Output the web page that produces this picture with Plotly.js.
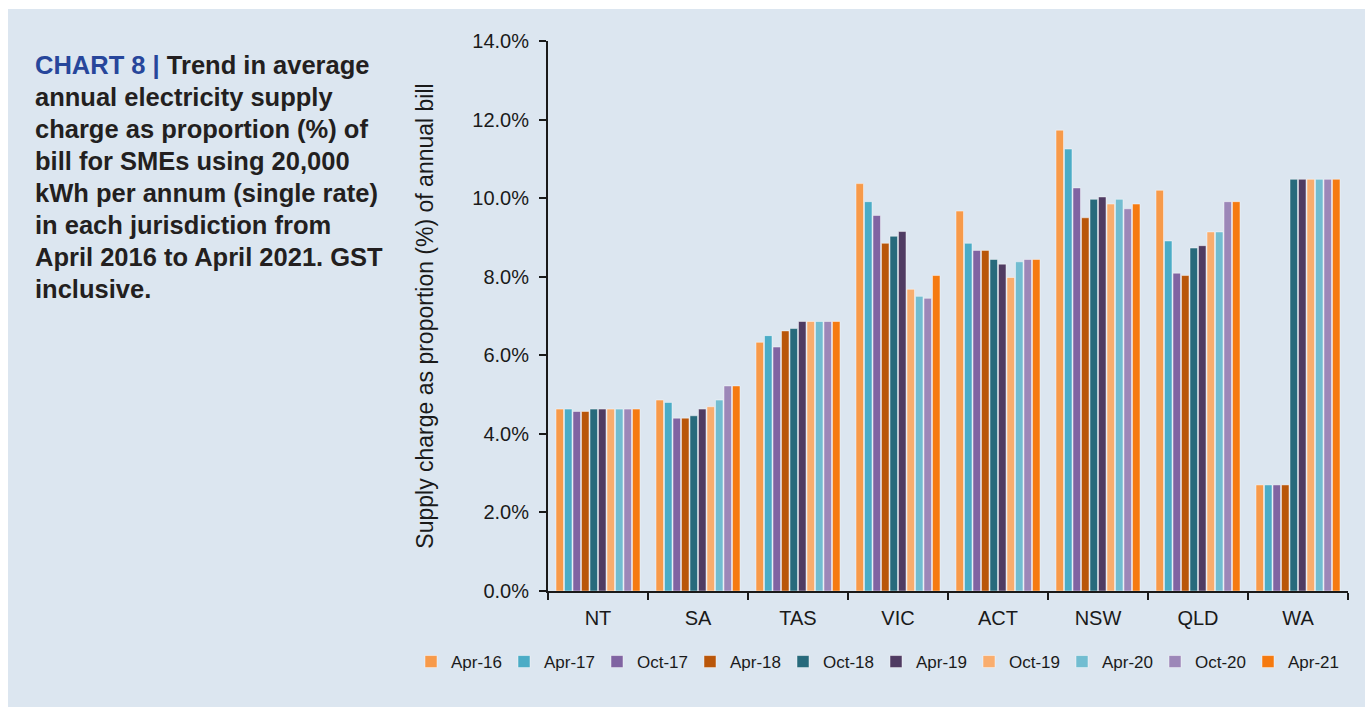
<!DOCTYPE html>
<html>
<head>
<meta charset="utf-8">
<script src="https://cdn.plot.ly/plotly-3.0.1.min.js"></script>
<style>
  html, body { margin: 0; padding: 0; background: #ffffff; }
  #chart { position: absolute; left: 8px; top: 9px; width: 1357px; height: 698px; }
</style>
</head>
<body>
<div id="chart"></div>
<script>
// jurisdictions along the x axis
const states = ['NT', 'SA', 'TAS', 'VIC', 'ACT', 'NSW', 'QLD', 'WA'];

// one series per survey period, values are % of annual bill
const periods = ['Apr-16', 'Apr-17', 'Oct-17', 'Apr-18', 'Oct-18', 'Apr-19', 'Oct-19', 'Apr-20', 'Oct-20', 'Apr-21'];
const apr16 = [4.63, 4.86, 6.33, 10.37, 9.67, 11.73, 10.20, 2.70];
const apr17 = [4.63, 4.80, 6.50, 9.91, 8.85, 11.25, 8.91, 2.70];
const oct17 = [4.57, 4.40, 6.21, 9.56, 8.67, 10.26, 8.09, 2.70];
const apr18 = [4.57, 4.40, 6.62, 8.85, 8.67, 9.50, 8.03, 2.70];
const oct18 = [4.63, 4.46, 6.68, 9.03, 8.44, 9.97, 8.73, 10.48];
const apr19 = [4.63, 4.63, 6.86, 9.15, 8.32, 10.03, 8.79, 10.48];
const oct19 = [4.63, 4.69, 6.86, 7.68, 7.98, 9.85, 9.14, 10.48];
const apr20 = [4.63, 4.86, 6.86, 7.50, 8.38, 9.97, 9.14, 10.48];
const oct20 = [4.63, 5.22, 6.86, 7.45, 8.44, 9.73, 9.91, 10.48];
const apr21 = [4.63, 5.22, 6.86, 8.03, 8.44, 9.85, 9.91, 10.48];
const seriesValues = [apr16, apr17, oct17, apr18, oct18, apr19, oct19, apr20, oct20, apr21];

const colors = ['#f79a4a', '#4bacc6', '#8064a2', '#b9560a', '#276a7c',
                '#4f3b62', '#f9ad6e', '#72bdd1', '#9c87b8', '#f57a10'];

const titleLines = [
  '<span style="color:#27469b">CHART 8 | </span>Trend in average',
  'annual electricity supply',
  'charge as proportion (%) of',
  'bill for SMEs using 20,000',
  'kWh per annum (single rate)',
  'in each jurisdiction from',
  'April 2016 to April 2021. GST',
  'inclusive.'
];

const FONT = '"Liberation Sans", Arial, Helvetica, sans-serif';
const PANEL = '#dce6f0';

// the div sits at page (8, 9); the x axis runs from page x 548 to 1348,
// y axis from page y 41 to 591. The margin box is wider than the x axis so
// the one-row legend has room.
const W = 1357, H = 698;
const marginL = 380, marginR = 17, marginT = 32, marginB = 116;
const boxW = W - marginL - marginR;
const axisStart = (548 - 8 - marginL) / boxW;
const plotTop = marginT, plotBottom = H - marginB;
const toPaperY = (pageY) => (plotBottom - (pageY - 9)) / (plotBottom - plotTop);
const toPaperX = (pageX) => (pageX - 8 - marginL) / boxW;

const traces = periods.map((name, i) => ({
  type: 'bar',
  name: name,
  x: states,
  y: seriesValues[i],
  marker: {
    color: colors[i],
    line: { color: 'rgba(255,255,255,0.45)', width: 1 }
  },
  hoverinfo: 'x+y+name'
}));

const annotations = titleLines.map((line, i) => ({
  xref: 'paper',
  yref: 'paper',
  x: toPaperX(33),
  y: toPaperY(64.5 + i * 32.1),
  xanchor: 'left',
  yanchor: 'middle',
  align: 'left',
  showarrow: false,
  text: '<b>' + line + '</b>',
  font: { family: FONT, size: 25.5, color: '#231f20' }
}));

const layout = {
  width: W,
  height: H,
  margin: { l: marginL, r: marginR, t: marginT, b: marginB },
  paper_bgcolor: PANEL,
  plot_bgcolor: PANEL,
  barmode: 'group',
  bargap: 0.15,
  bargroupgap: 0.12,
  font: { family: FONT, size: 20, color: '#1a1a1a' },
  showlegend: true,
  legend: {
    orientation: 'h',
    x: toPaperX(876),
    xanchor: 'center',
    y: toPaperY(662),
    yanchor: 'middle',
    bgcolor: 'rgba(0,0,0,0)',
    font: { family: FONT, size: 17, color: '#1a1a1a' },
    itemwidth: 30,
    entrywidth: 48,
    entrywidthmode: 'pixels',
    traceorder: 'normal'
  },
  xaxis: {
    type: 'category',
    domain: [axisStart, 1],
    showline: true,
    linecolor: '#1a1a1a',
    linewidth: 2,
    ticks: 'outside',
    tickson: 'boundaries',
    ticklen: 7,
    tickwidth: 2,
    tickcolor: '#1a1a1a',
    ticklabelstandoff: 8,
    tickfont: { family: FONT, size: 20, color: '#1a1a1a' },
    showgrid: false,
    zeroline: false,
    fixedrange: true
  },
  yaxis: {
    range: [0, 14],
    dtick: 2,
    tick0: 0,
    tickformat: '.1f',
    ticksuffix: '%',
    showline: true,
    linecolor: '#1a1a1a',
    linewidth: 2,
    ticks: 'outside',
    ticklen: 7,
    tickwidth: 2,
    tickcolor: '#1a1a1a',
    ticklabelstandoff: 6,
    tickfont: { family: FONT, size: 20, color: '#1a1a1a' },
    showgrid: false,
    zeroline: false,
    fixedrange: true,
    title: {
      text: 'Supply charge as proportion (%) of annual bill',
      font: { family: FONT, size: 23, color: '#1a1a1a' },
      standoff: 32
    }
  },
  annotations: annotations
};

Plotly.newPlot('chart', traces, layout, { displayModeBar: false });
</script>
</body>
</html>
